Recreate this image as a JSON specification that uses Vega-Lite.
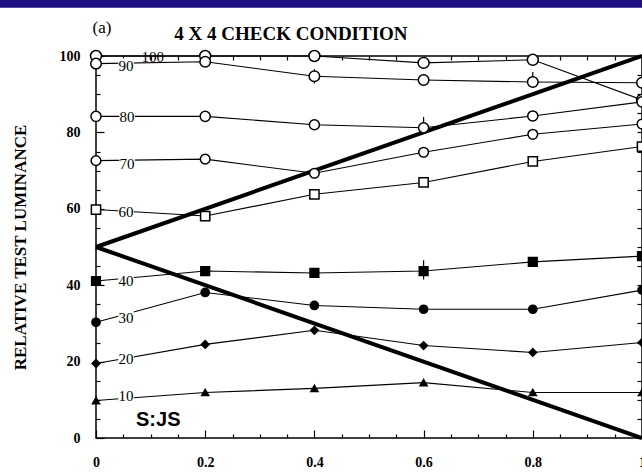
{
  "$schema": "https://vega.github.io/schema/vega-lite/v6.json",
  "width": 546,
  "height": 382,
  "autosize": "none",
  "padding": {"left": 96, "top": 56, "right": 0, "bottom": 37},
  "background": "white",
  "config": {
    "view": {"stroke": "black", "strokeWidth": 1.5},
    "font": "Liberation Serif",
    "axis": {"grid": false, "domain": false, "tickColor": "black", "tickWidth": 1.2, "labelColor": "black", "titleColor": "black"}
  },
  "datasets": {
    "band": [{"x": -0.18, "x2": 1.0, "y": 112.6, "y2": 116}],
    "diag": [
      {"d": "up", "x": 0, "y": 50}, {"d": "up", "x": 1, "y": 100},
      {"d": "down", "x": 0, "y": 50}, {"d": "down", "x": 1, "y": 0}
    ],
    "pts": [
      {"s": "100", "x": 0, "y": 100}, {"s": "100", "x": 0.2, "y": 100}, {"s": "100", "x": 0.4, "y": 100}, {"s": "100", "x": 0.6, "y": 98.2}, {"s": "100", "x": 0.8, "y": 99}, {"s": "100", "x": 1, "y": 88.5},
      {"s": "90", "x": 0, "y": 98}, {"s": "90", "x": 0.2, "y": 98.5}, {"s": "90", "x": 0.4, "y": 94.7}, {"s": "90", "x": 0.6, "y": 93.7}, {"s": "90", "x": 0.8, "y": 93.2}, {"s": "90", "x": 1, "y": 93},
      {"s": "80", "x": 0, "y": 84.2}, {"s": "80", "x": 0.2, "y": 84.2}, {"s": "80", "x": 0.4, "y": 82}, {"s": "80", "x": 0.6, "y": 81.2}, {"s": "80", "x": 0.8, "y": 84.3}, {"s": "80", "x": 1, "y": 88},
      {"s": "70", "x": 0, "y": 72.6}, {"s": "70", "x": 0.2, "y": 73}, {"s": "70", "x": 0.4, "y": 69.3}, {"s": "70", "x": 0.6, "y": 74.8}, {"s": "70", "x": 0.8, "y": 79.5}, {"s": "70", "x": 1, "y": 82.2},
      {"s": "60", "x": 0, "y": 59.8}, {"s": "60", "x": 0.2, "y": 58.1}, {"s": "60", "x": 0.4, "y": 63.8}, {"s": "60", "x": 0.6, "y": 66.9}, {"s": "60", "x": 0.8, "y": 72.4}, {"s": "60", "x": 1, "y": 76.3},
      {"s": "40", "x": 0, "y": 41.1}, {"s": "40", "x": 0.2, "y": 43.7}, {"s": "40", "x": 0.4, "y": 43.2}, {"s": "40", "x": 0.6, "y": 43.7}, {"s": "40", "x": 0.8, "y": 46.1}, {"s": "40", "x": 1, "y": 47.6},
      {"s": "30", "x": 0, "y": 30.3}, {"s": "30", "x": 0.2, "y": 38.1}, {"s": "30", "x": 0.4, "y": 34.7}, {"s": "30", "x": 0.6, "y": 33.7}, {"s": "30", "x": 0.8, "y": 33.7}, {"s": "30", "x": 1, "y": 38.7},
      {"s": "20", "x": 0, "y": 19.5}, {"s": "20", "x": 0.2, "y": 24.5}, {"s": "20", "x": 0.4, "y": 28.2}, {"s": "20", "x": 0.6, "y": 24.2}, {"s": "20", "x": 0.8, "y": 22.4}, {"s": "20", "x": 1, "y": 25},
      {"s": "10", "x": 0, "y": 9.8}, {"s": "10", "x": 0.2, "y": 11.9}, {"s": "10", "x": 0.4, "y": 13}, {"s": "10", "x": 0.6, "y": 14.5}, {"s": "10", "x": 0.8, "y": 11.9}, {"s": "10", "x": 1, "y": 11.9}
    ],
    "err": [
      {"x": 0.4, "lo": 92.8, "hi": 96.5},
      {"x": 0.8, "lo": 92.2, "hi": 95.8},
      {"x": 0.6, "lo": 80, "hi": 84},
      {"x": 0.6, "lo": 41.5, "hi": 46.5}
    ],
    "labs": [
      {"t": "100", "x": 0.104, "y": 99.7},
      {"t": "90", "x": 0.055, "y": 97.4},
      {"t": "80", "x": 0.057, "y": 84},
      {"t": "70", "x": 0.057, "y": 71.8},
      {"t": "60", "x": 0.055, "y": 59.2},
      {"t": "40", "x": 0.055, "y": 41},
      {"t": "30", "x": 0.055, "y": 31.4},
      {"t": "20", "x": 0.055, "y": 20.6},
      {"t": "10", "x": 0.055, "y": 11}
    ],
    "notes": [
      {"k": "subject", "t": "S:JS", "x": 0.114, "y": 4.6},
      {"k": "panel", "t": "(a)", "x": 0.011, "y": 107.2},
      {"k": "title", "t": "4 X 4 CHECK CONDITION", "x": 0.357, "y": 105.8}
    ]
  },
  "layer": [
    {
      "data": {"name": "band"},
      "mark": {"type": "rect", "clip": false, "color": "#1d1080"},
      "encoding": {
        "x": {"field": "x", "type": "quantitative", "scale": {"domain": [0, 1], "nice": false, "zero": false}, "axis": null},
        "x2": {"field": "x2"},
        "y": {"field": "y", "type": "quantitative", "scale": {"domain": [0, 100], "nice": false}, "axis": null},
        "y2": {"field": "y2"}
      }
    },
    {
      "data": {"name": "diag"},
      "mark": {"type": "line", "color": "black", "strokeWidth": 4},
      "encoding": {
        "x": {"field": "x", "type": "quantitative", "axis": {
          "orient": "bottom", "title": null, "format": "~g",
          "values": [0, 0.05, 0.1, 0.15, 0.2, 0.25, 0.3, 0.35, 0.4, 0.45, 0.5, 0.55, 0.6, 0.65, 0.7, 0.75, 0.8, 0.85, 0.9, 0.95, 1],
          "labelExpr": "abs(datum.value*5 - round(datum.value*5)) < 0.000001 ? datum.label : ''",
          "tickSize": {"condition": {"test": "abs(datum.value*5 - round(datum.value*5)) < 0.000001", "value": -8}, "value": -4},
          "labelFont": "Liberation Serif", "labelFontSize": 14, "labelFontWeight": "bold", "labelPadding": 25, "labelFlush": false
        }},
        "y": {"field": "y", "type": "quantitative", "axis": {
          "orient": "left", "title": "RELATIVE TEST LUMINANCE",
          "values": [0, 5, 10, 15, 20, 25, 30, 35, 40, 45, 50, 55, 60, 65, 70, 75, 80, 85, 90, 95, 100],
          "labelExpr": "datum.value % 20 === 0 ? datum.label : ''",
          "tickSize": {"condition": {"test": "datum.value % 20 === 0", "value": -8}, "value": -4},
          "labelFont": "Liberation Serif", "labelFontSize": 14, "labelFontWeight": "bold", "labelPadding": 24, "labelFlush": false,
          "titleFont": "Liberation Serif", "titleFontSize": 17, "titleFontWeight": "bold", "titlePadding": 30
        }},
        "detail": {"field": "d"}
      }
    },
    {
      "data": {"name": "pts"},
      "mark": {"type": "line", "color": "black", "strokeWidth": 1.1},
      "encoding": {
        "x": {"field": "x", "type": "quantitative", "axis": {
          "orient": "top", "title": null, "labels": false,
          "values": [0, 0.05, 0.1, 0.15, 0.2, 0.25, 0.3, 0.35, 0.4, 0.45, 0.5, 0.55, 0.6, 0.65, 0.7, 0.75, 0.8, 0.85, 0.9, 0.95, 1],
          "tickSize": -4
        }},
        "y": {"field": "y", "type": "quantitative", "axis": {
          "orient": "right", "title": null, "labels": false,
          "values": [0, 5, 10, 15, 20, 25, 30, 35, 40, 45, 50, 55, 60, 65, 70, 75, 80, 85, 90, 95, 100],
          "tickSize": -5
        }},
        "detail": {"field": "s"}
      }
    },
    {
      "data": {"name": "labs"},
      "transform": [{"filter": "datum.t !== '100'"}],
      "mark": {"type": "point", "shape": "square", "filled": true, "color": "white", "size": 240, "opacity": 1},
      "encoding": {
        "x": {"field": "x", "type": "quantitative", "axis": null},
        "y": {"field": "y", "type": "quantitative", "axis": null}
      }
    },
    {
      "data": {"name": "labs"},
      "mark": {"type": "text", "font": "Liberation Serif", "fontSize": 15, "color": "black", "align": "center", "baseline": "middle"},
      "encoding": {
        "x": {"field": "x", "type": "quantitative", "axis": null},
        "y": {"field": "y", "type": "quantitative", "axis": null},
        "text": {"field": "t"}
      }
    },
    {
      "data": {"name": "err"},
      "mark": {"type": "rule", "color": "black", "strokeWidth": 1.2},
      "encoding": {
        "x": {"field": "x", "type": "quantitative", "axis": null},
        "y": {"field": "lo", "type": "quantitative", "axis": null},
        "y2": {"field": "hi"}
      }
    },
    {
      "data": {"name": "pts"},
      "mark": {"type": "point", "stroke": "black", "strokeWidth": 1.5, "opacity": 1},
      "encoding": {
        "x": {"field": "x", "type": "quantitative", "axis": null},
        "y": {"field": "y", "type": "quantitative", "axis": null},
        "shape": {"field": "s", "type": "nominal", "legend": null, "scale": {"domain": ["100", "90", "80", "70", "60", "40", "30", "20", "10"], "range": ["circle", "circle", "circle", "circle", "square", "square", "circle", "diamond", "triangle-up"]}},
        "fill": {"field": "s", "type": "nominal", "legend": null, "scale": {"domain": ["100", "90", "80", "70", "60", "40", "30", "20", "10"], "range": ["white", "white", "white", "white", "white", "black", "black", "black", "black"]}},
        "size": {"field": "s", "type": "nominal", "legend": null, "scale": {"domain": ["100", "90", "80", "70", "60", "40", "30", "20", "10"], "range": [120, 50, 60, 110, 120, 120, 140, 70, 70]}}
      }
    },
    {
      "data": {"name": "notes"},
      "transform": [{"filter": "datum.k === 'subject'"}],
      "mark": {"type": "text", "color": "black", "align": "center", "baseline": "middle", "font": "Liberation Sans", "fontSize": 20, "fontWeight": "bold", "clip": false},
      "encoding": {
        "x": {"field": "x", "type": "quantitative", "axis": null},
        "y": {"field": "y", "type": "quantitative", "axis": null},
        "text": {"field": "t"}
      }
    },
    {
      "data": {"name": "notes"},
      "transform": [{"filter": "datum.k === 'panel'"}],
      "mark": {"type": "text", "color": "black", "align": "center", "baseline": "middle", "font": "Liberation Serif", "fontSize": 17, "clip": false},
      "encoding": {
        "x": {"field": "x", "type": "quantitative", "axis": null},
        "y": {"field": "y", "type": "quantitative", "axis": null},
        "text": {"field": "t"}
      }
    },
    {
      "data": {"name": "notes"},
      "transform": [{"filter": "datum.k === 'title'"}],
      "mark": {"type": "text", "color": "black", "align": "center", "baseline": "middle", "font": "Liberation Serif", "fontSize": 19, "fontWeight": "bold", "clip": false},
      "encoding": {
        "x": {"field": "x", "type": "quantitative", "axis": null},
        "y": {"field": "y", "type": "quantitative", "axis": null},
        "text": {"field": "t"}
      }
    }
  ]
}
